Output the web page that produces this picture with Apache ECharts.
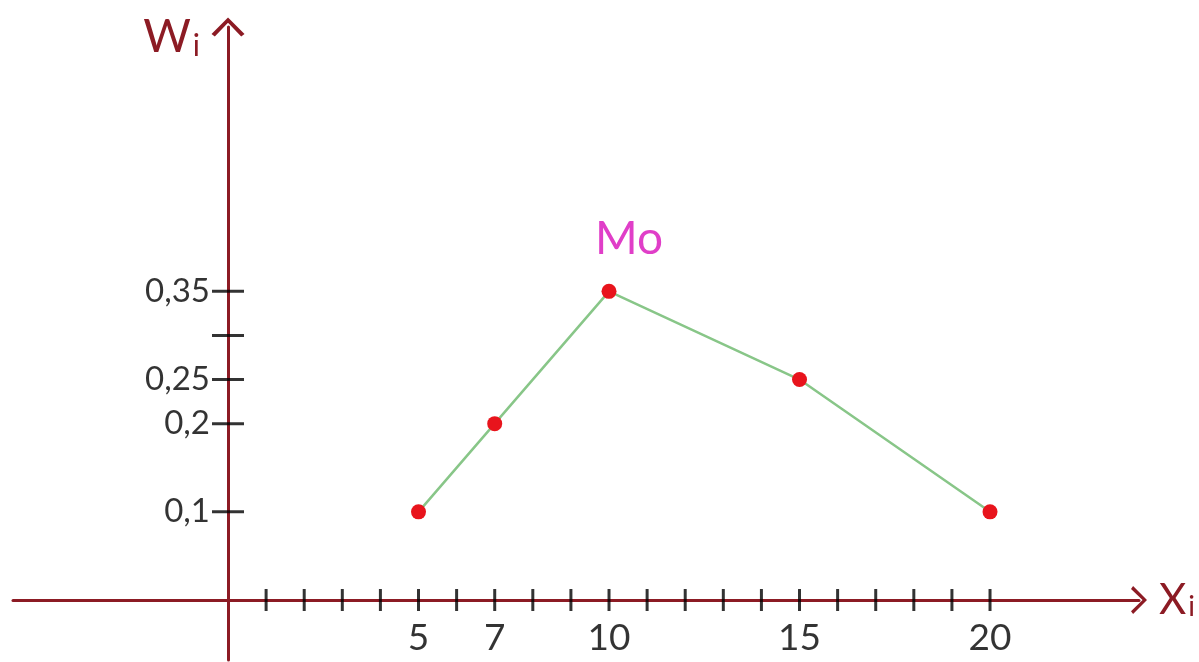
<!DOCTYPE html>
<html>
<head>
<meta charset="utf-8">
<title>Полигон относительных частот</title>
<script src="https://cdn.jsdelivr.net/npm/echarts@6/dist/echarts.min.js"></script>
<style>
  html, body { margin: 0; padding: 0; background: #ffffff; }
  #chart { width: 1199px; height: 662px; }
</style>
</head>
<body>
<div id="chart"></div>
<script>
// Variant values x_i and their relative frequencies w_i
const xValues = [5, 7, 10, 15, 20];
const wValues = [0.1, 0.2, 0.35, 0.25, 0.1];

// Tick marks and labelled ticks on both axes
const xTickValues = [1, 2, 3, 4, 5, 6, 7, 8, 9, 10, 11, 12, 13, 14, 15, 16, 17, 18, 19, 20];
const xLabelValues = [5, 7, 10, 15, 20];
const yTickValues = [0.1, 0.2, 0.25, 0.3, 0.35];
const yLabelValues = [0.1, 0.2, 0.25, 0.35];

const AXIS_RED = '#8c1b24';
const INK = '#000000';
const FONT = 'Lato, "Open Sans", "DejaVu Sans", sans-serif';

// Decimal comma, as written in the source notes
const fmt = v => String(v).replace('.', ',');

// The mode is the variant with the largest frequency
const modeIndex = wValues.indexOf(Math.max(...wValues));

const polygonData = xValues.map((x, i) => {
  const item = { value: [x, wValues[i]] };
  if (i === modeIndex) {
    item.label = {
      show: true,
      formatter: 'Mo',
      position: 'top',
      distance: 22,
      offset: [20, 0],
      color: '#e03ec8',
      fontFamily: FONT,
      fontWeight: 400,
      fontSize: 46
    };
  }
  return item;
});

// Tick marks across the axes; labelled ones carry their value as text
const xTickData = xTickValues.map(v => ({
  value: [v, 0],
  label: { show: xLabelValues.includes(v) }
}));
const yTickData = yTickValues.map(v => ({
  value: [0, v],
  label: { show: yLabelValues.includes(v) }
}));

// Arrow head pointing along the axis (open chevron)
const chevron = 'path://M0 10 L10 0 L20 10 L18 11.5 L10 3.2 L2 11.5 Z';

const chart = echarts.init(document.getElementById('chart'), null, { renderer: 'canvas' });

chart.setOption({
  animation: false,
  backgroundColor: '#ffffff',
  grid: { left: 13, right: 60, top: 27, bottom: 2, containLabel: false, outerBoundsMode: 'none' },
  xAxis: {
    type: 'value',
    min: -5.643,
    max: 23.91,
    splitLine: { show: false },
    axisTick: { show: false },
    axisLabel: { show: false },
    axisLine: {
      onZero: true,
      symbol: ['none', chevron],
      symbolSize: [28, 16],
      lineStyle: { color: AXIS_RED, width: 3 }
    },
    name: '{b|X}{s|i}',
    nameLocation: 'end',
    nameGap: 20,
    nameTextStyle: {
      align: 'left',
      verticalAlign: 'middle',
      rich: {
        b: { color: AXIS_RED, fontFamily: FONT, fontWeight: 400, fontSize: 42 },
        s: { color: AXIS_RED, fontFamily: FONT, fontWeight: 400, fontSize: 28, padding: [14, 0, 0, 2] }
      }
    }
  },
  yAxis: {
    type: 'value',
    min: -0.068,
    max: 0.6497,
    splitLine: { show: false },
    axisTick: { show: false },
    axisLabel: { show: false },
    axisLine: {
      onZero: true,
      symbol: ['none', chevron],
      symbolSize: [33, 20],
      lineStyle: { color: AXIS_RED, width: 3 }
    },
    name: '{b|W}{s|i}',
    nameLocation: 'end',
    nameGap: -34,
    nameTextStyle: {
      align: 'right',
      verticalAlign: 'bottom',
      padding: [0, 28, 0, 0],
      rich: {
        b: { color: AXIS_RED, fontFamily: FONT, fontWeight: 400, fontSize: 46 },
        s: { color: AXIS_RED, fontFamily: FONT, fontWeight: 400, fontSize: 30, padding: [18, 0, 0, 2] }
      }
    }
  },
  series: [
    {
      // crossing tick marks on the horizontal axis
      type: 'scatter',
      silent: true,
      symbol: 'rect',
      symbolSize: [3, 22],
      itemStyle: { color: INK },
      label: {
        position: 'bottom',
        distance: 9,
        formatter: p => fmt(p.value[0]),
        color: INK,
        fontFamily: FONT,
        fontSize: 37
      },
      data: xTickData,
      z: 3
    },
    {
      // crossing tick marks on the vertical axis
      type: 'scatter',
      silent: true,
      symbol: 'rect',
      symbolSize: [32, 3],
      itemStyle: { color: INK },
      label: {
        position: 'left',
        distance: 2,
        formatter: p => fmt(p.value[1]),
        color: INK,
        fontFamily: FONT,
        fontSize: 33
      },
      data: yTickData,
      z: 3
    },
    {
      // frequency polygon
      type: 'line',
      data: polygonData,
      symbol: 'circle',
      symbolSize: 15,
      showAllSymbol: true,
      lineStyle: { color: '#88c688', width: 2.5 },
      itemStyle: { color: '#e8141c' },
      z: 4
    }
  ]
});
</script>
</body>
</html>
